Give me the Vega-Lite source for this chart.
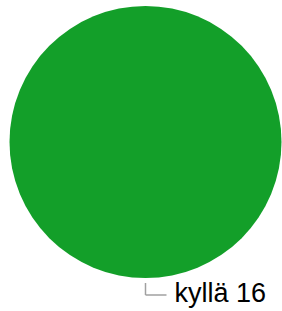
{
  "$schema": "https://vega.github.io/schema/vega-lite/v6.json",
  "width": 273,
  "height": 284,
  "autosize": {"type": "none"},
  "padding": {"left": 9, "top": 0, "right": 0, "bottom": 27},
  "background": "white",
  "config": {"view": {"stroke": null}},
  "data": {"values": [{"vastaus": "kyllä", "n": 16}]},
  "transform": [{"calculate": "datum.vastaus + ' ' + datum.n", "as": "label"}],
  "layer": [
    {
      "mark": {"type": "arc", "outerRadius": 136, "color": "#139f29", "stroke": null},
      "encoding": {"theta": {"field": "n", "type": "quantitative", "stack": true}}
    },
    {
      "mark": {"type": "rule", "color": "#a0a0a0", "strokeWidth": 1.5},
      "encoding": {
        "x": {"value": {"expr": "width/2"}},
        "y": {"value": {"expr": "height/2+141"}},
        "y2": {"value": {"expr": "height/2+153"}}
      }
    },
    {
      "mark": {"type": "rule", "color": "#a0a0a0", "strokeWidth": 1.5},
      "encoding": {
        "x": {"value": {"expr": "width/2"}},
        "x2": {"value": {"expr": "width/2+21"}},
        "y": {"value": {"expr": "height/2+153"}}
      }
    },
    {
      "mark": {"type": "text", "radius": 136, "align": "left", "baseline": "alphabetic",
        "dx": 29, "dy": 24, "font": "Liberation Sans", "fontSize": 27, "color": "#000000"},
      "encoding": {
        "theta": {"field": "n", "type": "quantitative", "stack": true},
        "text": {"field": "label", "type": "nominal"}
      }
    }
  ]
}
